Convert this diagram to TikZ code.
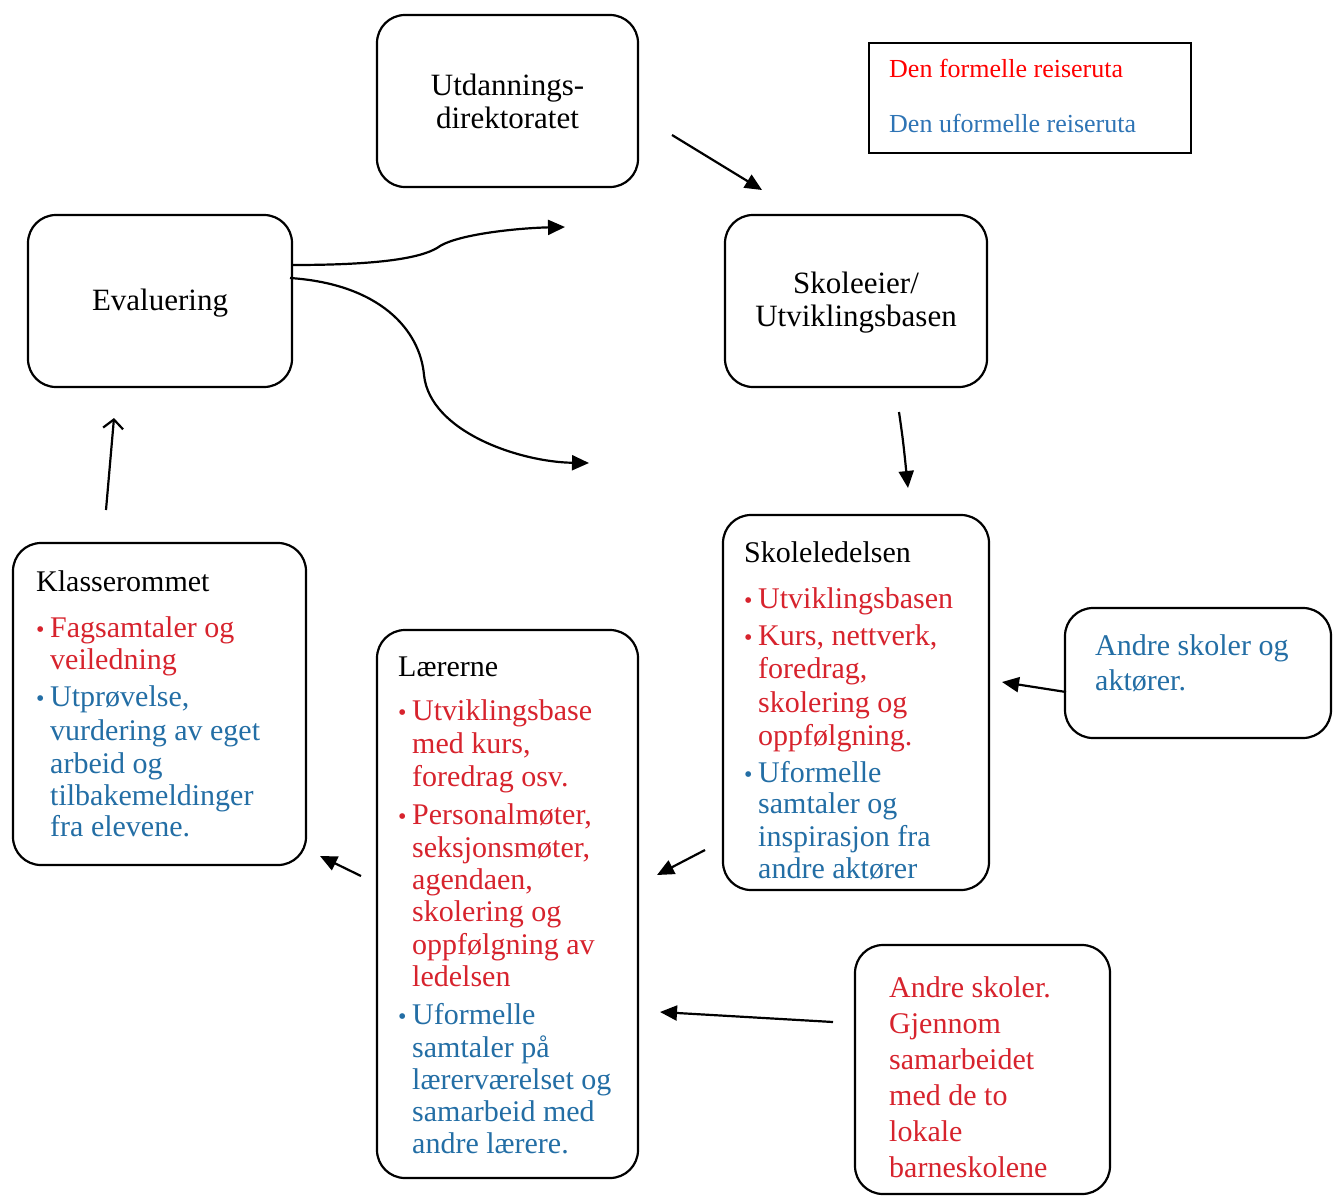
\documentclass[tikz,border=0pt]{standalone}
\usepackage{fontspec}
\setmainfont{Liberation Serif}
\usetikzlibrary{arrows.meta}
\definecolor{fred}{RGB}{215,35,45}
\definecolor{fblue}{RGB}{35,110,165}
\definecolor{lred}{RGB}{255,0,0}
\definecolor{lblue}{RGB}{46,116,181}
\newcommand\tl[5]{\node[ln, text=#4] (#1) at (#2,#3) {#5};}
\newcommand\bl[4]{\node[bul, text=#4] (#1) at (#2,#3) {•};}
\begin{document}
\begin{tikzpicture}[x=1pt,y=-1pt,
 box/.style={draw, line width=2.2pt, rounded corners=28pt, inner sep=0pt},
 big/.style={font=\fontsize{31}{33}\selectfont},
 ln/.style={anchor=base west, inner sep=0pt, font=\fontsize{30}{33}\selectfont},
 lg/.style={anchor=base west, inner sep=0pt, font=\fontsize{26}{30}\selectfont},
 bul/.style={anchor=base west, inner sep=0pt, font=\fontsize{24}{33}\selectfont},
 arr/.style={line width=2.2pt, -{Triangle[length=17pt,width=15pt]}},
 arro/.style={line width=2.2pt, -{Straight Barb[length=9pt,width=20pt]}}]
\path[use as bounding box, fill=white] (0,0) rectangle (1337,1196);

% boxes
\node[box, big, minimum width=261pt, minimum height=172pt, align=center] (utd) at (507.5,101) {Utdannings-\\direktoratet};
\node[box, minimum width=262pt, minimum height=172pt] (eier) at (856,301) {};
\node[big, align=center, inner sep=0pt] (eiert) at (856,303) {Skoleeier/\\Utviklingsbasen};
\node[box, minimum width=264pt, minimum height=172pt] (eval) at (160,301) {};
\node[big, inner sep=0pt] (evalt) at (160,303) {Evaluering};
\node[box, minimum width=266pt, minimum height=375pt] (led) at (856,702.5) {};
\node[box, minimum width=293pt, minimum height=322pt] (klasse) at (159.5,704) {};
\node[box, minimum width=261pt, minimum height=548pt] (laer) at (507.5,904) {};
\node[box, minimum width=266pt, minimum height=130pt] (aktor) at (1198,673) {};
\node[box, minimum width=255pt, minimum height=249pt] (barne) at (982.5,1069.5) {};
\node[draw, line width=2.2pt, minimum width=322pt, minimum height=110pt, inner sep=0pt] (legend) at (1030,98) {};

% legend
\node[lg, text=lred] (lg1) at (889,78) {Den formelle reiseruta};
\node[lg, text=lblue] (lg2) at (889,132) {Den uformelle reiseruta};

% Klasserommet
\tl{k0}{36}{591}{black}{Klasserommet}
\bl{kb1}{36}{637}{fred}
\tl{k1}{50}{637}{fred}{Fagsamtaler og}
\tl{k2}{50}{669}{fred}{veiledning}
\bl{kb2}{36}{706}{fblue}
\tl{k3}{50}{706}{fblue}{Utprøvelse,}
\tl{k4}{50}{740}{fblue}{vurdering av eget}
\tl{k5}{50}{773}{fblue}{arbeid og}
\tl{k6}{50}{805}{fblue}{tilbakemeldinger}
\tl{k7}{50}{836}{fblue}{fra elevene.}

% Lærerne
\tl{l0}{398}{676}{black}{Lærerne}
\bl{lb1}{398}{720}{fred}
\tl{l1}{412}{720}{fred}{Utviklingsbase}
\tl{l2}{412}{753}{fred}{med kurs,}
\tl{l3}{412}{786}{fred}{foredrag osv.}
\bl{lb2}{398}{824}{fred}
\tl{l4}{412}{824}{fred}{Personalmøter,}
\tl{l5}{412}{857}{fred}{seksjonsmøter,}
\tl{l6}{412}{889}{fred}{agendaen,}
\tl{l7}{412}{921}{fred}{skolering og}
\tl{l8}{412}{954}{fred}{oppfølgning av}
\tl{l9}{412}{986}{fred}{ledelsen}
\bl{lb3}{398}{1024}{fblue}
\tl{l10}{412}{1024}{fblue}{Uformelle}
\tl{l11}{412}{1057}{fblue}{samtaler på}
\tl{l12}{412}{1089}{fblue}{lærerværelset og}
\tl{l13}{412}{1121}{fblue}{samarbeid med}
\tl{l14}{412}{1153}{fblue}{andre lærere.}

% Skoleledelsen
\tl{s0}{744}{562}{black}{Skoleledelsen}
\bl{sb1}{744}{608}{fred}
\tl{s1}{758}{608}{fred}{Utviklingsbasen}
\bl{sb2}{744}{645}{fred}
\tl{s2}{758}{645}{fred}{Kurs, nettverk,}
\tl{s3}{758}{678}{fred}{foredrag,}
\tl{s4}{758}{712}{fred}{skolering og}
\tl{s5}{758}{745}{fred}{oppfølgning.}
\bl{sb3}{744}{782}{fblue}
\tl{s6}{758}{782}{fblue}{Uformelle}
\tl{s7}{758}{813}{fblue}{samtaler og}
\tl{s8}{758}{846}{fblue}{inspirasjon fra}
\tl{s9}{758}{878}{fblue}{andre aktører}

% Andre skoler og aktører
\tl{a1}{1095}{655}{fblue}{Andre skoler og}
\tl{a2}{1095}{690}{fblue}{aktører.}

% Andre skoler. Gjennom...
\tl{b1}{889}{997}{fred}{Andre skoler.}
\tl{b2}{889}{1033}{fred}{Gjennom}
\tl{b3}{889}{1069}{fred}{samarbeidet}
\tl{b4}{889}{1105}{fred}{med de to}
\tl{b5}{889}{1141}{fred}{lokale}
\tl{b6}{889}{1177}{fred}{barneskolene}

% arrow end points
\coordinate (p1s) at (672,135);  \coordinate (p1e) at (762,190);
\coordinate (p2s) at (899,412);  \coordinate (p2e) at (908,488);
\coordinate (p3s) at (1066,692); \coordinate (p3e) at (1002,682);
\coordinate (p4s) at (705,850);  \coordinate (p4e) at (657,875);
\coordinate (p5s) at (833,1022); \coordinate (p5e) at (660,1012);
\coordinate (p6s) at (361,876);  \coordinate (p6e) at (320,856);
\coordinate (p7s) at (106,510);  \coordinate (p7e) at (114,418);
\coordinate (c1s) at (293,265);  \coordinate (c1e) at (565,227);
\coordinate (c2s) at (290,278);  \coordinate (c2e) at (589,463);

\draw[arr] (p1s) -- (p1e);
\draw[arr] (p2s) .. controls (903,440) .. (p2e);
\draw[arr] (p3s) -- (p3e);
\draw[arr] (p4s) -- (p4e);
\draw[arr] (p5s) -- (p5e);
\draw[arr] (p6s) -- (p6e);
\draw[arro] (p7s) -- (p7e);
\draw[arr] (c1s) .. controls (380,265) and (420,258) .. (437,248) .. controls (455,234) and (520,228) .. (c1e);
\draw[arr] (c2s) .. controls (380,284) and (420,330) .. (424,375) .. controls (430,432) and (520,462) .. (c2e);
\end{tikzpicture}
\end{document}
